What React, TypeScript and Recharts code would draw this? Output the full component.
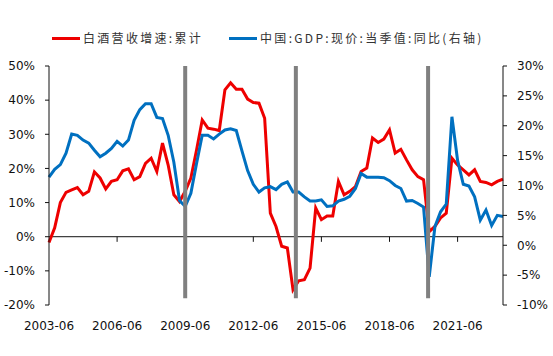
import React from "react";
import { LineChart, Line, XAxis, YAxis, ReferenceLine } from "recharts";

// quarterly, 2003-06 .. 2023-06
const dates = [
  "2003-06", "2003-09", "2003-12", "2004-03", "2004-06", "2004-09", "2004-12", "2005-03",
  "2005-06", "2005-09", "2005-12", "2006-03", "2006-06", "2006-09", "2006-12", "2007-03",
  "2007-06", "2007-09", "2007-12", "2008-03", "2008-06", "2008-09", "2008-12", "2009-03",
  "2009-06", "2009-09", "2009-12", "2010-03", "2010-06", "2010-09", "2010-12", "2011-03",
  "2011-06", "2011-09", "2011-12", "2012-03", "2012-06", "2012-09", "2012-12", "2013-03",
  "2013-06", "2013-09", "2013-12", "2014-03", "2014-06", "2014-09", "2014-12", "2015-03",
  "2015-06", "2015-09", "2015-12", "2016-03", "2016-06", "2016-09", "2016-12", "2017-03",
  "2017-06", "2017-09", "2017-12", "2018-03", "2018-06", "2018-09", "2018-12", "2019-03",
  "2019-06", "2019-09", "2019-12", "2020-03", "2020-06", "2020-09", "2020-12", "2021-03",
  "2021-06", "2021-09", "2021-12", "2022-03", "2022-06", "2022-09", "2022-12", "2023-03",
  "2023-06",
];

// 白酒营收增速:累计 (%), left axis
const liquorGrowth = [
  -1.7, 2.6, 10.0, 13.0, 13.7, 14.4, 12.3, 13.3, 19.0, 17.2, 14.0, 16.2, 16.7, 19.3, 19.9, 16.7,
  17.6, 21.5, 23.0, 19.1, 27.4, 21.0, 12.3, 10.3, 13.3, 17.2, 25.4, 34.2, 31.8, 31.5, 31.1, 43.0,
  45.1, 43.2, 43.2, 40.3, 39.3, 39.1, 34.7, 6.9, 3.0, -2.8, -3.3, -15.5, -12.9, -12.6, -9.2, 8.4,
  5.0, 6.1, 6.1, 16.2, 12.3, 13.3, 14.7, 19.1, 20.1, 28.9, 27.6, 28.6, 31.3, 24.5, 25.6, 22.5,
  19.6, 17.6, 16.7, 1.5, 3.0, 5.5, 6.9, 23.0, 21.0, 19.6, 18.1, 19.6, 16.2, 15.9, 15.2, 16.2,
  16.9,
];

// 中国:GDP:现价:当季值:同比 (%), right axis
const gdpGrowth = [
  11.4, 12.7, 13.5, 15.4, 18.6, 18.4, 17.6, 17.1, 15.9, 14.8, 15.4, 16.2, 17.4, 16.6, 17.6, 20.9,
  22.7, 23.7, 23.7, 21.4, 21.2, 18.4, 13.9, 7.5, 6.5, 8.7, 13.7, 18.4, 18.4, 17.8, 18.6, 19.3,
  19.5, 19.2, 15.8, 12.5, 10.2, 8.9, 9.6, 9.8, 9.3, 10.2, 10.6, 8.9, 8.9, 8.1, 7.4, 7.4,
  7.6, 6.5, 6.6, 7.4, 7.7, 8.2, 9.5, 12.0, 11.4, 11.4, 11.4, 11.3, 10.8, 10.0, 9.5, 7.4,
  7.5, 7.0, 6.4, -5.3, 3.1, 5.6, 6.9, 21.5, 14.2, 10.2, 9.9, 8.1, 4.2, 5.9, 3.3, 5.0,
  4.8,
];

const xTicks = ["2003-06", "2006-06", "2009-06", "2012-06", "2015-06", "2018-06", "2021-06"];
const leftTicks = [-20, -10, 0, 10, 20, 30, 40, 50];
const rightTicks = [-10, -5, 0, 5, 10, 15, 20, 25, 30];
// position of the grey marker bars, in quarters from the first date
const markerPositions = [24, 43.5, 66.8];

const data = dates.map((d, i) => ({
  date: d,
  idx: i,
  liquor: liquorGrowth[i],
  gdp: gdpGrowth[i],
}));

const axisFont = { fontSize: 12, fill: "#111", fontFamily: "DejaVu Sans, Verdana, sans-serif" };

const RED = "#EE0000";
const BLUE = "#0070C0";

function LegendItem({ color, label }: { color: string; label: string }) {
  return (
    <div style={{ display: "flex", alignItems: "center" }}>
      <span style={{ display: "inline-block", width: 28, height: 3, background: color, marginRight: 3 }} />
      <span>{label}</span>
    </div>
  );
}

export default function App() {
  return (
    <div style={{ position: "relative", width: 553, height: 356, background: "#fff" }}>
      <style>{`body{margin:0}`}</style>
      <div
        style={{
          position: "absolute",
          top: 29,
          left: 52,
          display: "flex",
          gap: 26,
          fontSize: 12,
          letterSpacing: 2.3,
          color: "#333",
          fontFamily: "'Noto Sans CJK SC', 'DejaVu Sans', sans-serif",
          lineHeight: "18px",
          zIndex: 2,
        }}
      >
        <LegendItem color={RED} label="白酒营收增速:累计" />
        <LegendItem color={BLUE} label="中国:GDP:现价:当季值:同比(右轴)" />
      </div>
      <LineChart width={553} height={356} data={data} margin={{ top: 66, right: 0, bottom: 0, left: 0 }}>
        <XAxis
          dataKey="date"
          ticks={xTicks}
          interval={0}
          tick={axisFont}
          axisLine={false}
          tickLine={false}
          tickSize={6}
          tickMargin={10}
          height={51}
        />
        <XAxis xAxisId="num" type="number" dataKey="idx" domain={[0, 80]} hide />
        <YAxis
          yAxisId="left"
          domain={[-20, 50]}
          ticks={leftTicks}
          tickFormatter={(v) => `${v}%`}
          tick={axisFont}
          width={49}
          tickSize={4}
          tickMargin={10}
          stroke="#111"
        />
        <YAxis
          yAxisId="right"
          orientation="right"
          domain={[-10, 30]}
          ticks={rightTicks}
          tickFormatter={(v) => `${v}%`}
          tick={axisFont}
          width={50}
          tickSize={4}
          tickMargin={10}
          stroke="#111"
        />
        <ReferenceLine yAxisId="left" y={0} stroke="#111" strokeWidth={1} />
        {xTicks.slice(1).map((t) => (
          <ReferenceLine
            key={t}
            yAxisId="left"
            stroke="#111"
            strokeWidth={1}
            segment={[
              { x: t, y: 0 },
              { x: t, y: -1.5 },
            ]}
          />
        ))}
        <Line
          yAxisId="left"
          dataKey="liquor"
          stroke={RED}
          strokeWidth={3}
          dot={false}
          isAnimationActive={false}
        />
        <Line
          yAxisId="right"
          dataKey="gdp"
          stroke={BLUE}
          strokeWidth={3}
          dot={false}
          isAnimationActive={false}
        />
        {markerPositions.map((p) => (
          <ReferenceLine
            key={p}
            xAxisId="num"
            yAxisId="left"
            stroke="#808080"
            strokeWidth={4}
            segment={[
              { x: p, y: -18 },
              { x: p, y: 50 },
            ]}
          />
        ))}
      </LineChart>
    </div>
  );
}
